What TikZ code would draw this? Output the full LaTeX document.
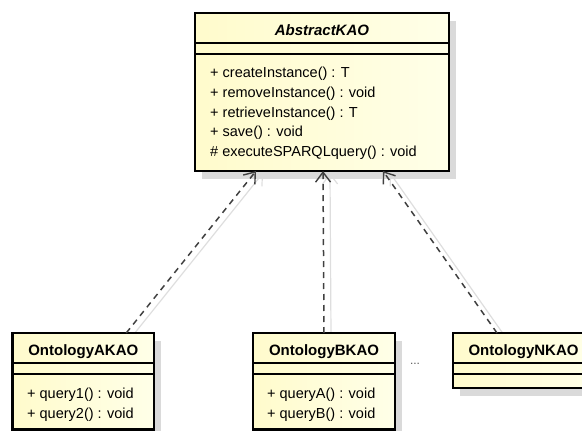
\documentclass[tikz,border=0pt]{standalone}
\usepackage{fontspec}
\setmainfont{Liberation Sans}
\usetikzlibrary{arrows.meta,shadows}
\definecolor{boxL}{RGB}{255,251,204}
\definecolor{boxR}{RGB}{255,255,232}
\definecolor{shadowgray}{RGB}{218,218,218}
\definecolor{linegray}{RGB}{64,64,64}
\definecolor{lightline}{RGB}{222,222,222}
\pgfdeclarelayer{bg}
\pgfsetlayers{bg,main}
\begin{document}
\begin{tikzpicture}[x=1pt,y=-1pt,
  umlbox/.style={draw=black, line width=2.6pt, left color=boxL, right color=boxR,
    inner sep=0pt, outer sep=0pt, anchor=north west,
    drop shadow={shadow xshift=7pt, shadow yshift=-8pt, fill=shadowgray, opacity=1}},
  sepline/.style={draw=black, line width=1.3pt},
  titletext/.style={font=\fontsize{15}{18}\selectfont\bfseries, inner sep=0pt, anchor=base},
  member/.style={font=\fontsize{14.5}{17}\selectfont, inner sep=0pt, anchor=base west},
  realize/.style={draw=linegray, line width=1.5pt, dash pattern=on 6pt off 5pt,
    -{Straight Barb[length=10pt,width=15pt,line width=1.4pt]}},
  realshadow/.style={draw=lightline, line width=1.2pt,
    -{Straight Barb[length=10pt,width=15pt,line width=1.2pt]}},
]
\useasboundingbox (0,0) rectangle (582,431);
\clip (0,0) rectangle (582,431);

% boxes
\node[umlbox, minimum width=254pt, minimum height=158pt] (abs) at (195,13) {};
\node[umlbox, minimum width=141.5pt, minimum height=96.5pt] (A) at (12.5,333) {};
\node[umlbox, minimum width=142pt, minimum height=96.5pt] (B) at (253,333) {};
\node[umlbox, minimum width=141pt, minimum height=55pt] (N) at (453,333) {};

% compartments
\foreach \n in {abs,A,B,N} {
  \draw[sepline] ([yshift=-30pt]\n.north west) -- ([yshift=-30pt]\n.north east);
  \draw[sepline] ([yshift=-41pt]\n.north west) -- ([yshift=-41pt]\n.north east);
}

% titles
\node[titletext, font=\fontsize{15}{18}\selectfont\bfseries\itshape] (absT) at ([yshift=-22.5pt]abs.north) {AbstractKAO};
\node[titletext] (AT) at ([yshift=-22.5pt]A.north) {OntologyAKAO};
\node[titletext] (BT) at ([yshift=-22.5pt]B.north) {OntologyBKAO};
\node[titletext] (NT) at ([yshift=-22.5pt]N.north) {OntologyNKAO};

% members
\node[member] (absM1) at ([xshift=15pt,yshift=-64.5pt]abs.north west) {+ createInstance() : T};
\node[member] (absM2) at ([xshift=15pt,yshift=-84.3pt]abs.north west) {+ removeInstance() : void};
\node[member] (absM3) at ([xshift=15pt,yshift=-104.1pt]abs.north west) {+ retrieveInstance() : T};
\node[member] (absM4) at ([xshift=15pt,yshift=-123.9pt]abs.north west) {+ save() : void};
\node[member] (absM5) at ([xshift=15pt,yshift=-143.7pt]abs.north west) {\# executeSPARQLquery() : void};

\node[member] (AM1) at ([xshift=14.5pt,yshift=-65pt]A.north west) {+ query1() : void};
\node[member] (AM2) at ([xshift=14.5pt,yshift=-85pt]A.north west) {+ query2() : void};
\node[member] (BM1) at ([xshift=14pt,yshift=-65pt]B.north west) {+ queryA() : void};
\node[member] (BM2) at ([xshift=14pt,yshift=-85pt]B.north west) {+ queryB() : void};

\node[font=\fontsize{12}{14}\selectfont, text=black!65, inner sep=0pt] (dots) at (415,364) {...};

% connector shadows
\begin{pgfonlayer}{bg}
\begin{scope}[transform canvas={xshift=7pt,yshift=-2pt}]
\draw[realshadow] ([xshift=43pt]A.north) -- ([xshift=-66pt]abs.south);
\draw[realshadow] (B.north) -- ([xshift=1pt]abs.south);
\draw[realshadow] ([xshift=44pt]N.north west) -- ([xshift=61pt]abs.south);
\end{scope}
\end{pgfonlayer}

% connectors
\draw[realize] ([xshift=43pt]A.north) -- ([xshift=-66pt]abs.south);
\draw[realize] (B.north) -- ([xshift=1pt]abs.south);
\draw[realize] ([xshift=44pt]N.north west) -- ([xshift=61pt]abs.south);
\end{tikzpicture}
\end{document}
